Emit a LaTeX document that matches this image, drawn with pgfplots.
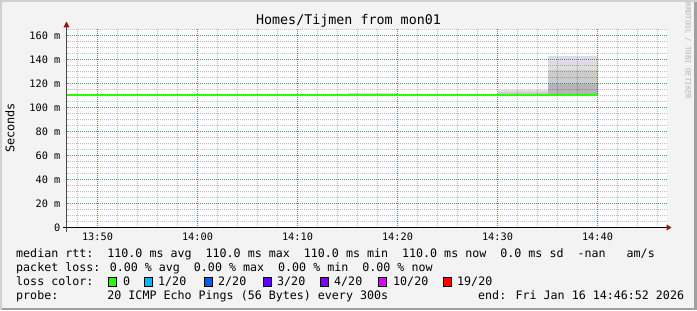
\documentclass[border=0pt]{standalone}
\usepackage{pgfplots}
\pgfplotsset{compat=1.18}
\usepackage{fontspec}
\setmainfont{DejaVu Sans Mono}
\usetikzlibrary{arrows.meta}
\definecolor{bg}{RGB}{243,243,243}
\definecolor{brdlight}{RGB}{208,208,208}
\definecolor{brddark}{RGB}{160,160,160}
\definecolor{majgrid}{RGB}{255,80,80}
\definecolor{mingrid}{RGB}{190,190,190}
\definecolor{arrowred}{RGB}{140,25,25}
\definecolor{loss0}{HTML}{26FF00}
\definecolor{loss1}{HTML}{00B8FF}
\definecolor{loss2}{HTML}{0059FF}
\definecolor{loss3}{HTML}{5E00FF}
\definecolor{loss4}{HTML}{7E00FF}
\definecolor{loss10}{HTML}{DD00FF}
\definecolor{loss19}{HTML}{FF0000}
\begin{document}
\begin{tikzpicture}[x=1bp,y=1bp]
\useasboundingbox (0,0) rectangle (697,310);
\fill[bg] (0,0) rectangle (697,310);
\fill[brdlight] (0,0) rectangle (2,310);
\fill[brdlight] (0,308) rectangle (697,310);
\fill[brddark] (694,0) rectangle (697,308);
\fill[brddark] (2,0) rectangle (697,2.5);
\begin{axis}[
  at={(66.5bp,82.5bp)}, anchor=south west,
  scale only axis, width=600bp, height=198bp,
  xmin=-3.1, xmax=56.9, ymin=0, ymax=165,
  axis lines=left,
  axis background/.style={fill=white},
  x axis line style={line width=1bp, black, shorten <=-4bp, shorten >=-5bp, -{Triangle[length=5bp,width=6bp,color=arrowred]}},
  y axis line style={line width=1bp, black!70, shorten <=-4bp, shorten >=-8bp, -{Triangle[length=6bp,width=6bp,color=arrowred]}},
  major tick length=0pt, minor tick length=0pt,
  xtick={0,10,20,30,40,50},
  xticklabels={13:50,14:00,14:10,14:20,14:30,14:40},
  minor xtick={-2,2,4,6,8,12,14,16,18,22,24,26,28,32,34,36,38,42,44,46,48,52,54,56},
  ytick={0,20,...,160},
  yticklabels={0,20 m,40 m,60 m,80 m,100 m,120 m,140 m,160 m},
  minor ytick={5,10,15,25,30,35,45,50,55,65,70,75,85,90,95,105,110,115,125,130,135,145,150,155,165},
  xmajorgrids=true, ymajorgrids=true, xminorgrids=true, yminorgrids=true,
  every axis grid/.style={line width=1bp, dash pattern=on 1bp off 1bp, dash phase=0.5bp},
  every major grid/.style={color=majgrid, draw=majgrid},
  every minor grid/.style={color=mingrid, draw=mingrid},
  tick label style={font=\fontsize{10.3}{12}\selectfont, black, inner sep=0pt},
  xticklabel style={anchor=base, yshift=-13bp},
  yticklabel style={anchor=east, xshift=-6bp},
  /pgf/number format/assume math mode=true,
]
% smoke 14:15-14:20
\addplot[draw=none, fill=black, fill opacity=0.14] coordinates {(25,110) (30,110) (30,112.4) (25,112.4)} -- cycle;
% smoke 14:30-14:35
\addplot[draw=none, fill=black, fill opacity=0.20] coordinates {(40,110) (45,110) (45,113.0) (40,113.0)} -- cycle;
\addplot[draw=none, fill=black, fill opacity=0.13] coordinates {(40,113.0) (45,113.0) (45,114.6) (40,114.6)} -- cycle;
% smoke 14:35-14:40
\addplot[draw=none, fill=black, fill opacity=0.29] coordinates {(45,110) (50,110) (50,119.9) (45,119.9)} -- cycle;
\addplot[draw=none, fill=black, fill opacity=0.20] coordinates {(45,119.9) (50,119.9) (50,130.9) (45,130.9)} -- cycle;
\addplot[draw=none, fill=black, fill opacity=0.13] coordinates {(45,130.9) (50,130.9) (50,142.7) (45,142.7)} -- cycle;
% median line
\addplot[line width=2bp, loss0] coordinates {(-3.1,110) (50,110)};
\end{axis}
\node[anchor=base, inner sep=0pt, font=\fontsize{13.4}{16}\selectfont] at (348.5,286) {Homes/Tijmen from mon01};
\node[rotate=90, inner sep=0pt, font=\fontsize{11.9}{14}\selectfont] at (10,182) {Seconds};
\node[rotate=-90, inner sep=0pt, font=\fontsize{7.3}{9}\selectfont, text=black!30] at (688,259) {RRDTOOL / TOBI OETIKER};
\begin{scope}[every node/.style={anchor=base west, inner sep=0pt, font=\fontsize{11.7}{14}\selectfont}]
\node at (16,52.7) {median rtt:~~110.0 ms avg~~110.0 ms max~~110.0 ms min~~110.0 ms now~~0.0 ms sd~~-nan~~~am/s};
\node at (16,38.5) {packet loss: 0.00 \% avg~~0.00 \% max~~0.00 \% min~~0.00 \% now};
\node at (16,24.3) {loss color:};
\node at (16,10.1) {probe:~~~~~~~20 ICMP Echo Pings (56 Bytes) every 300s};
\node at (478,10.1) {end: Fri Jan 16 14:46:52 2026};
\node at (123,24.3) {0};
\node at (158,24.3) {1/20};
\node at (218,24.3) {2/20};
\node at (277,24.3) {3/20};
\node at (334,24.3) {4/20};
\node at (393,24.3) {10/20};
\node at (457,24.3) {19/20};
\end{scope}
\begin{scope}[line width=1bp]
\filldraw[fill=loss0] (108.5,24) rectangle (116.5,32.5);
\filldraw[fill=loss1] (144.5,24) rectangle (152.5,32.5);
\filldraw[fill=loss2] (204.5,24) rectangle (212.5,32.5);
\filldraw[fill=loss3] (263.5,24) rectangle (271.5,32.5);
\filldraw[fill=loss4] (320.5,24) rectangle (328.5,32.5);
\filldraw[fill=loss10] (378.5,24) rectangle (386.5,32.5);
\filldraw[fill=loss19] (443.5,24) rectangle (451.5,32.5);
\end{scope}
\end{tikzpicture}
\end{document}
